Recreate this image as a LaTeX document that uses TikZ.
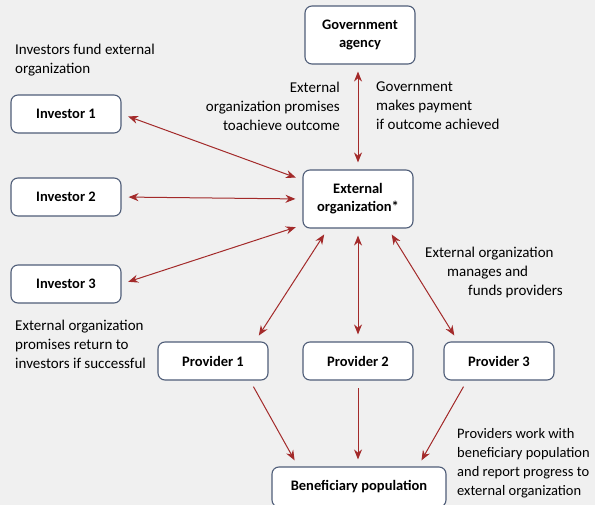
\documentclass[tikz,border=0pt]{standalone}
\usepackage{fontspec}
\setmainfont{Carlito}
\usetikzlibrary{arrows.meta}
\definecolor{bggray}{HTML}{F0F0F0}
\definecolor{linkred}{HTML}{A32A2A}
\definecolor{boxline}{HTML}{4F5D78}

\begin{document}
\begin{tikzpicture}[x=1pt,y=-1pt,>={Stealth[length=10pt,width=8pt]}]
\tikzstyle{orgbox}=[draw=boxline,fill=white,rounded corners=7pt,line width=1.1pt,minimum width=110pt,minimum height=38pt,align=center,inner sep=2pt,font=\bfseries\fontsize{14.5}{18}\selectfont]
\tikzstyle{link}=[<->,linkred,line width=1pt,shorten <=7pt,shorten >=7pt]
\tikzstyle{note}=[inner sep=0pt,font=\fontsize{15}{19}\selectfont]

\useasboundingbox (0,0) rectangle (595,505);
\fill[bggray] (0,0) rectangle (595,505);
\clip (0,0) rectangle (595,505);

\node[orgbox,minimum height=58pt] (gov) at (360,35) {Government\\agency};
\node[orgbox,minimum height=58pt] (ext) at (358,199) {External\\organization*};
\node[orgbox] (inv1) at (66,114) {Investor 1};
\node[orgbox] (inv2) at (66,197) {Investor 2};
\node[orgbox] (inv3) at (66,284) {Investor 3};
\node[orgbox] (prov1) at (213,361) {Provider 1};
\node[orgbox] (prov2) at (358,361) {Provider 2};
\node[orgbox] (prov3) at (499,361) {Provider 3};
\node[orgbox,minimum width=174pt,minimum height=40pt] (benef) at (359,487) {Beneficiary population};

\draw[link] (ext.north |- gov.south) -- (ext.north);
\draw[link] (inv1.east) -- ([yshift=19pt]ext.west);
\draw[link] (inv2.east) -- (ext.west);
\draw[link] (inv3.east) -- ([yshift=-26pt]ext.west);
\draw[link] ([xshift=-30pt]ext.south) -- ([xshift=42pt]prov1.north);
\draw[link] (ext.south) -- (prov2.north);
\draw[link] ([xshift=30pt]ext.south) -- ([xshift=-41pt]prov3.north);
\draw[link,<-] ([xshift=-61pt]benef.north) -- ([xshift=37pt]prov1.south);
\draw[link,<-] (benef.north -| prov2.south) -- (prov2.south);
\draw[link,<-] ([xshift=59pt]benef.north) -- ([xshift=-32pt]prov3.south);

\node[note,anchor=north west,align=left] (fundtxt) at (15,44) {Investors fund external\\organization};
\node[note,anchor=north east,align=right] (promtxt) at (340,82) {External\\organization promises\\toachieve outcome};
\node[note,anchor=north west,align=left] (paytxt) at (376,82) {Government\\makes payment\\if outcome achieved};
\node[note,anchor=north west,align=left] (mgtxt) at (425,247) {External organization\\\hspace*{22pt}manages and\\\hspace*{43pt}funds providers};
\node[note,anchor=north west,align=left] (rettxt) at (15,320) {External organization\\promises return to\\investors if successful};
\node[note,anchor=north west,align=left,font=\fontsize{14.5}{19}\selectfont] (reptxt) at (457,428) {Providers work with\\beneficiary population\\and report progress to\\external organization};
\end{tikzpicture}
\end{document}
